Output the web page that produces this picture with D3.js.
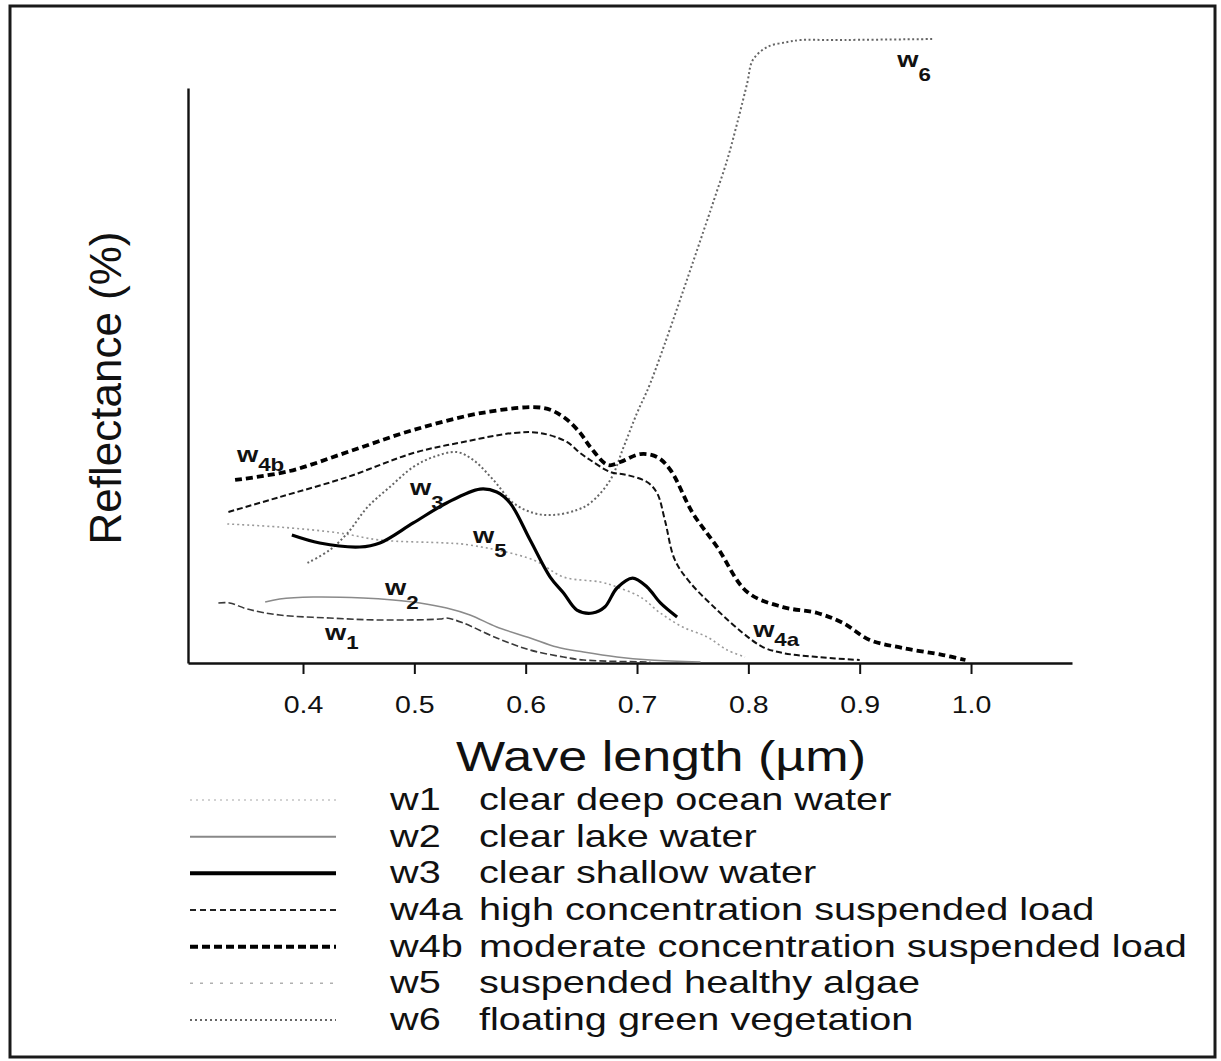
<!DOCTYPE html>
<html><head><meta charset="utf-8">
<script src="https://cdn.jsdelivr.net/npm/d3@7"></script>
<style>body{margin:0;background:#fff}svg{display:block}</style>
</head><body><svg id="c" width="1221" height="1061"></svg>
<script>
// ---- data (wavelength in µm, reflectance in %) ----
const seriesIds = ["w1","w2","w3","w4a","w4b","w5","w6"];
const seriesNames = ["clear deep ocean water","clear lake water","clear shallow water",
  "high concentration suspended load","moderate concentration suspended load",
  "suspended healthy algae","floating green vegetation"];
const xTickValues = [0.4,0.5,0.6,0.7,0.8,0.9,1.0];
const xTickLabels = ["0.4","0.5","0.6","0.7","0.8","0.9","1.0"];

const w1 = [[0.324,4.82],[0.334,4.82],[0.350,4.33],[0.379,3.85],[0.424,3.61],[0.469,3.45],[0.523,3.53],
  [0.529,3.61],[0.544,3.21],[0.574,2.01],[0.604,1.04],[0.634,0.48],[0.652,0.24],[0.712,0.08]];
const w2 = [[0.366,4.90],[0.379,5.14],[0.409,5.30],[0.454,5.22],[0.481,5.06],[0.505,4.82],[0.529,4.41],
  [0.550,3.85],[0.574,2.89],[0.604,2.01],[0.628,1.28],[0.652,0.88],[0.682,0.48],[0.712,0.24],[0.757,0.08]];
const w3 = [[0.390,10.27],[0.415,9.63],[0.451,9.31],[0.469,9.63],[0.499,11.24],[0.529,12.84],[0.559,13.96],
  [0.574,13.72],[0.586,12.84],[0.604,9.87],[0.622,6.90],[0.634,5.62],[0.646,4.25],[0.660,4.01],[0.671,4.49],
  [0.682,6.02],[0.696,6.82],[0.709,6.10],[0.721,4.82],[0.736,3.69]];
const w4a = [[0.333,12.12],[0.379,13.32],[0.440,14.93],[0.499,16.85],[0.544,17.74],[0.589,18.46],[0.613,18.46],
  [0.637,17.74],[0.649,16.85],[0.658,16.29],[0.676,15.33],[0.691,15.09],[0.709,14.53],[0.718,13.64],
  [0.725,11.48],[0.734,8.27],[0.748,6.42],[0.772,4.25],[0.795,2.41],[0.813,1.28],[0.831,0.80],[0.862,0.48],[0.900,0.24]];
const w4b = [[0.339,14.69],[0.388,15.41],[0.440,16.93],[0.499,18.70],[0.565,20.14],[0.616,20.47],[0.634,19.74],
  [0.649,18.46],[0.658,17.34],[0.674,15.89],[0.685,16.13],[0.703,16.77],[0.718,16.53],[0.730,15.49],
  [0.750,12.04],[0.772,9.31],[0.799,5.70],[0.831,4.49],[0.862,4.01],[0.885,3.21],[0.909,1.85],[0.939,1.20],
  [0.975,0.64],[0.995,0.24]];
const w5 = [[0.332,11.16],[0.379,10.91],[0.433,10.43],[0.469,9.87],[0.529,9.63],[0.550,9.47],[0.607,8.27],
  [0.634,6.90],[0.667,6.50],[0.682,6.10],[0.703,5.30],[0.721,4.01],[0.741,2.89],[0.763,2.09],[0.781,1.04],[0.797,0.48]];
const w6 = [[0.404,8.03],[0.424,9.07],[0.440,10.43],[0.458,12.52],[0.478,14.13],[0.499,15.73],[0.517,16.53],
  [0.538,16.93],[0.553,16.29],[0.571,14.69],[0.589,12.84],[0.607,12.04],[0.625,11.88],[0.646,12.28],
  [0.658,12.84],[0.676,14.69],[0.688,17.34],[0.700,20.06],[0.712,22.47],[0.764,35.79],[0.770,37.40],
  [0.781,40.37],[0.790,43.34],[0.799,46.55],[0.804,48.39],[0.817,49.44],[0.835,49.84],[0.847,50.0],
  [0.876,50.0],[0.966,50.08]];
// curve label anchors (µm, %) and subscript text
const labelIds = ["w1","w2","w3","w4a","w4b","w5","w6"];
const labelSubs = ["1","2","3","4a","4b","5","6"];
const labelX = [0.4198,0.4737,0.4961,0.8043,0.3407,0.5527,0.9337];
const labelY = [1.85,5.46,13.48,2.09,16.13,9.63,47.83];

// ---- drawing ----
const svg = d3.select("#c");
const seriesData = {w1,w2,w3,w4a,w4b,w5,w6};
const plotStyle = {
  w1:{stroke:"#3a3a3a",w:1.6,dash:"7,3"},
  w2:{stroke:"#8a8a8a",w:1.5,dash:null},
  w3:{stroke:"#000",w:3.2,dash:null},
  w4a:{stroke:"#111",w:2,dash:"6,3"},
  w4b:{stroke:"#000",w:3.8,dash:"7,4"},
  w5:{stroke:"#9a9a9a",w:1.6,dash:"2,3"},
  w6:{stroke:"#666",w:2,dash:"2,2.5"}
};
const legendStyle = {
  w1:{stroke:"#c4c4c4",w:1.5,dash:"2,4"},
  w2:{stroke:"#888",w:2,dash:null},
  w3:{stroke:"#000",w:4,dash:null},
  w4a:{stroke:"#222",w:2.2,dash:"6,4"},
  w4b:{stroke:"#000",w:4,dash:"8,4"},
  w5:{stroke:"#b0b0b0",w:1.5,dash:"3,7"},
  w6:{stroke:"#666",w:2,dash:"2,3"}
};
const SX = 1.24; // horizontal stretch of the original lettering
const font = "'Liberation Sans', Arial, Helvetica, sans-serif";

svg.append("rect").attr("x",0).attr("y",0).attr("width",1221).attr("height",1061).attr("fill","#fff");
svg.append("rect").attr("x",10).attr("y",6).attr("width",1205).attr("height",1051)
  .attr("fill","none").attr("stroke","#1a1a1a").attr("stroke-width",3);

const x = d3.scaleLinear().domain([0.2967,1.0907]).range([188,1072]);
const y = d3.scaleLinear().domain([0,46.15]).range([663,88]);

// axes
const xAxis = d3.axisBottom(x).tickValues(xTickValues).tickFormat((d,i)=>xTickLabels[i])
  .tickSize(11).tickSizeOuter(0).tickPadding(23);
const gx = svg.append("g").attr("transform","translate(0,663)").call(xAxis);
gx.select(".domain").attr("stroke","#111").attr("stroke-width",2.4);
gx.selectAll(".tick line").attr("stroke","#111").attr("stroke-width",2);
gx.selectAll(".tick text").attr("font-family",font).attr("font-size",23).attr("fill","#111")
  .attr("transform",`scale(${SX},1)`);

const yAxis = d3.axisLeft(y).tickValues([]).tickSizeOuter(0);
const gy = svg.append("g").attr("transform","translate(188,0)").call(yAxis);
gy.select(".domain").attr("stroke","#111").attr("stroke-width",2.4);

// axis titles
svg.append("text").attr("transform",`translate(661,771) scale(${SX},1)`).attr("text-anchor","middle")
  .attr("font-family",font).attr("font-size",42).attr("fill","#111").text("Wave length (\u00b5m)");
svg.append("text").attr("transform","translate(121,388) rotate(-90)").attr("text-anchor","middle")
  .attr("font-family",font).attr("font-size",44).attr("fill","#111").text("Reflectance (%)");

// curves
const line = d3.line().x(d=>x(d[0])).y(d=>y(d[1])).curve(d3.curveCatmullRom.alpha(0.5));
const drawOrder = ["w5","w6","w2","w1","w4a","w3","w4b"];
drawOrder.forEach(id=>{
  const s = plotStyle[id];
  svg.append("path").datum(seriesData[id]).attr("d",line).attr("fill","none")
    .attr("stroke",s.stroke).attr("stroke-width",s.w).attr("stroke-dasharray",s.dash)
    .attr("stroke-linejoin","round");
});

// curve labels
labelIds.forEach((id,i)=>{
  const t = svg.append("text").attr("transform",`translate(${x(labelX[i])},${y(labelY[i])}) scale(${SX},1)`)
    .attr("font-family",font).attr("fill","#111").attr("font-weight","bold");
  t.append("tspan").attr("font-size",22).text("w");
  const off = (id==="w4b"||id==="w1"||id==="w4a") ? 9 : 14;
  t.append("tspan").attr("font-size",18).attr("dy",off).text(labelSubs[i]);
});

// legend
seriesIds.forEach((id,i)=>{
  const base = 810 + i*36.67;
  const s = legendStyle[id];
  svg.append("line").attr("x1",190).attr("x2",336).attr("y1",base-10).attr("y2",base-10)
    .attr("stroke",s.stroke).attr("stroke-width",s.w).attr("stroke-dasharray",s.dash);
  svg.append("text").attr("transform",`translate(390,${base}) scale(${SX},1)`)
    .attr("font-family",font).attr("font-size",32).attr("fill","#111").text(id);
  svg.append("text").attr("transform",`translate(479,${base}) scale(${SX},1)`)
    .attr("font-family",font).attr("font-size",32).attr("fill","#111").text(seriesNames[i]);
});
</script></body></html>
